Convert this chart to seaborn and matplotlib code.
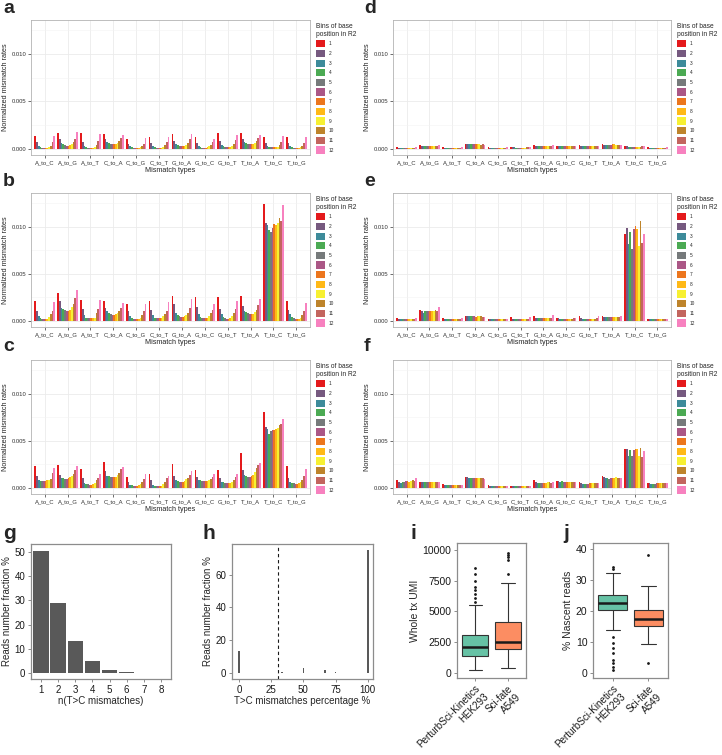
import numpy as np
import pandas as pd
import seaborn as sns
import matplotlib.pyplot as plt
from matplotlib.ticker import FixedLocator, FormatStrFormatter

# mismatch types and position bins
types = ["A_to_C", "A_to_G", "A_to_T", "C_to_A", "C_to_G", "C_to_T",
         "G_to_A", "G_to_C", "G_to_T", "T_to_A", "T_to_C", "T_to_G"]
bins = [str(i) for i in range(1, 13)]
bin_colors = ["#E41A1C", "#76597F", "#3D8B9A", "#4BAA53", "#767A7B", "#AB5786",
              "#EC761D", "#FFB917", "#F7F032", "#BE842B", "#C3655E", "#F781BF"]

# normalized mismatch rates (x 1e-4), one row per mismatch type, bins 1..12
rates_a = [
    [13.6, 7, 3.5, 2, 1.2, 1, 1, 1.2, 2, 3.5, 7, 13.6],
    [17, 10, 6.5, 5, 4, 3.5, 3.5, 4, 5, 7, 10, 18],
    [16.5, 7, 3, 1.5, 1, 0.8, 0.8, 1, 2, 4, 8, 15.7],
    [15.7, 10, 7, 6, 5.5, 5.5, 5.5, 5.5, 6, 8, 11, 14.7],
    [10, 5, 2.5, 1.5, 1, 0.8, 0.8, 1, 1.5, 3, 5.5, 11],
    [12, 6, 3, 1.5, 1, 0.8, 0.8, 1, 2, 4, 7, 12],
    [16, 8, 5, 4, 3.5, 3, 3, 3.5, 4.5, 6, 10, 16],
    [12, 6, 3, 2, 1.2, 1, 1, 1.5, 2.5, 4, 7, 10.5],
    [16.5, 8, 4, 2.5, 2, 2, 2, 2, 3, 5, 9, 14.7],
    [16.5, 10, 7, 6, 5, 5, 5, 5, 6, 8, 11, 14.7],
    [12, 6, 3, 2, 1.5, 1.5, 1.5, 1.5, 2, 4, 7, 13.6],
    [12, 6, 3, 2, 1.2, 1, 1, 1, 1.5, 3, 6, 13],
]
rates_b = [
    [21.5, 10, 5, 3, 2, 2, 2, 2.5, 4, 7, 10, 20.5],
    [30, 21, 14, 13, 12, 11, 11, 12, 15, 18, 24, 33],
    [22, 13, 6, 3.5, 3, 3, 3, 3, 3.5, 8, 13, 22],
    [21, 13.5, 10, 8, 7, 6.5, 6.5, 7, 8, 10, 14, 19.5],
    [18, 11, 5, 3, 2.5, 2, 2, 2.5, 3.5, 6, 10, 17.5],
    [21, 12, 6, 3.5, 3, 3, 3, 3.5, 5, 7, 11, 20],
    [26.5, 18, 8, 6, 5, 4, 4, 5, 6, 8, 14, 23],
    [25, 15, 7, 4, 3, 3, 3, 3, 5, 8, 12, 17.5],
    [25.5, 13, 7, 4, 3, 2.5, 2.5, 3, 5, 8, 13, 21],
    [26, 16, 10, 9, 8, 7, 7, 7, 9, 12, 17, 23],
    [124.5, 104, 102, 97, 95, 99, 103.5, 102, 104, 109, 106, 123],
    [21, 12, 7, 4, 3, 2.5, 2.5, 2.5, 3, 6, 10, 18.5],
]
rates_c = [
    [23, 13, 8, 7.5, 7, 7, 7.5, 8, 8, 9.5, 15.5, 21],
    [24, 14, 10, 10, 9, 9, 10, 11.5, 13, 15, 19, 23],
    [20, 10, 5, 4, 4, 3.5, 3.5, 4, 5, 8, 10.5, 15],
    [27, 17.5, 13, 12.5, 12, 11.5, 11.5, 12, 14, 16, 20, 22],
    [12, 6.5, 3.5, 3, 2.5, 2.5, 2.5, 3, 4, 6, 9.5, 14.5],
    [14.5, 8, 3.5, 2.5, 2.5, 2, 2, 2.5, 4, 6, 10, 13],
    [25.5, 13, 8.5, 7, 6.5, 6, 6, 7.5, 9, 11, 14, 17.5],
    [19.5, 12, 8.5, 8, 7.5, 7, 7, 7.5, 8.5, 9.5, 12, 14.5],
    [19, 10, 6.5, 6, 5.5, 5, 5, 5.5, 6.5, 8.5, 12, 14.5],
    [37, 19, 14, 13, 12, 11.5, 12.5, 14, 16.5, 21, 24.5, 26.5],
    [81, 64.5, 63, 57.5, 60, 61.5, 61.5, 62.5, 64, 67, 68, 73.5],
    [23.5, 11, 6, 5, 5, 4.5, 4.5, 5, 6, 8, 13, 20],
]
rates_d = [
    [2, 1, 1, 1, 1, 1, 1, 1, 1, 1, 1.2, 1.5],
    [4, 3.5, 3, 3, 3, 3, 3, 3.5, 3.5, 3.5, 3.5, 4.5],
    [1.8, 1.2, 1, 1, 1, 1, 1, 1, 1, 1, 1.2, 1.5],
    [5, 5, 5, 5.5, 5, 5, 5, 5, 5, 4.5, 5, 4.5],
    [1.5, 1.2, 1, 1, 1, 1, 1, 1, 1, 1, 1.2, 1.5],
    [2, 1.5, 1.5, 1.2, 1.2, 1.2, 1.2, 1.2, 1.2, 1.5, 1.5, 1.8],
    [4, 3.5, 3, 3, 3, 3, 3, 3, 3, 3, 3.5, 4],
    [2.5, 2.5, 2.5, 2.5, 2.5, 2.5, 2.5, 2.5, 2.5, 2.5, 2.5, 2.5],
    [4, 3, 2.5, 2.5, 2.5, 2.5, 2.5, 2.5, 2.5, 3, 3, 3.5],
    [5, 4.5, 4.5, 4.5, 4.5, 4.5, 5, 5, 4.5, 4.5, 4.5, 4.5],
    [3, 2.5, 2, 2, 2, 2, 2, 2, 2, 2, 2.5, 2.5],
    [1.5, 1, 1, 1, 1, 1, 1, 1, 1, 1, 1, 1.5],
]
rates_e = [
    [3, 2, 1.5, 1.5, 1.5, 1.5, 1.5, 1.5, 1.5, 1.5, 2, 3],
    [11.5, 10.5, 8, 10, 10, 10, 10.5, 10.5, 11, 12, 10, 15],
    [3.5, 2, 1.5, 1.5, 1.5, 1.5, 1.5, 1.5, 1.5, 1.5, 2, 3.5],
    [5.5, 5.5, 5, 5, 5, 5, 4.5, 5, 5, 5, 4.5, 4.5],
    [2.5, 1.5, 1.5, 1.5, 1.5, 1.5, 1.5, 1.5, 1.5, 1.5, 1.5, 2.5],
    [4, 2.5, 2, 2, 2, 2, 2, 2, 2, 2, 2.5, 4.5],
    [5.5, 3.5, 3, 3, 3, 3, 3, 3, 3, 3, 3.5, 6],
    [3.5, 3, 2.5, 2.5, 2.5, 2.5, 2.5, 2.5, 2.5, 2.5, 3, 3.5],
    [5.5, 3, 2.5, 2.5, 2.5, 2.5, 2.5, 2.5, 2.5, 2.5, 3, 5.5],
    [5.5, 4.5, 4, 4.5, 4.5, 4.5, 4.5, 4.5, 4.5, 4.5, 4, 5.5],
    [92, 99, 82, 95, 76, 98, 101, 98, 80, 106, 83, 92],
    [2.5, 2, 1.5, 1.5, 1.5, 1.5, 1.5, 1.5, 1.5, 1.5, 1.5, 2.5],
]
rates_f = [
    [8.5, 6, 5, 6.5, 6, 7, 7.5, 6.5, 7, 8, 7.5, 11],
    [6, 6, 6.5, 6.5, 6, 6, 6.5, 6.5, 6, 6, 6, 6],
    [4, 3.5, 3, 3, 3, 3, 3, 3, 3, 3, 3, 3.5],
    [12, 11.5, 10.5, 11, 10, 10, 10.5, 10, 10.5, 11, 10, 9.5],
    [3, 2.5, 2.5, 2.5, 2, 2, 2, 2, 2, 2, 2, 2.5],
    [2.5, 2, 2, 1.5, 1.5, 1.5, 1.5, 1.5, 2, 2, 2, 2.5],
    [8, 6.5, 5.5, 5.5, 5.5, 5.5, 5.5, 5.5, 6, 6, 5.5, 6.5],
    [7.5, 7, 6.5, 7.5, 6.5, 6, 6, 6.5, 6, 6.5, 6.5, 6],
    [6, 5, 4.5, 4.5, 4.5, 4.5, 5, 5, 5, 5, 5, 5.5],
    [13, 12, 10, 11, 9.5, 10.5, 10.5, 11, 11.5, 11, 10.5, 10],
    [41, 41.5, 33.5, 40, 34, 40, 41, 41.5, 34, 42.5, 33, 39],
    [5.5, 5, 4.5, 4.5, 4.5, 5, 5, 5, 5, 5.5, 5, 5.5],
]

# g: reads fraction by number of T>C mismatches
n_tc = [1, 2, 3, 4, 5, 6, 7, 8]
n_tc_frac = [50.5, 29.0, 13.3, 5.1, 1.3, 0.35, 0.1, 0.03]

# h: reads fraction by T>C mismatch percentage
tc_pct = [0, 12.5, 16.7, 20, 25, 33.3, 40, 50, 60, 66.7, 75, 80, 100]
tc_pct_frac = [13.5, 0.1, 0.15, 0.1, 0.2, 0.8, 0.15, 3.2, 0.2, 1.5, 0.4, 0.15, 75.0]

# i / j: per-cell values (samples shaped to the boxplot summaries)
samples = ["PerturbSci-Kinetics\nHEK293", "Sci-fate\nA549"]
umi_pk = [244, 450, 600, 750, 850, 950, 1030, 1100, 1170, 1230, 1290, 1340,
          1384, 1450, 1520, 1590, 1660, 1730, 1800, 1860, 1920, 1980, 2030, 2080,
          2117, 2200, 2290, 2380, 2470, 2560, 2650, 2740, 2830, 2920, 3000, 3050,
          3094, 3300, 3700, 4300, 5540, 5800, 6050, 6400, 6700, 7000, 7450, 8050, 8500]
umi_sf = [400, 700, 950, 1200, 1400, 1600, 1750, 1870,
          1954, 2030, 2100, 2180, 2260, 2340, 2410, 2470,
          2524, 2700, 2900, 3100, 3350, 3600, 3850, 4050,
          4150, 4800, 6000, 7330, 8060, 9200, 9450, 9600, 9770]
nascent_pk = [1.0, 1.9, 3.2, 4.2, 6.5, 8.1, 9.7, 11.6, 13.9, 16.0, 18.0, 19.5,
              20.3, 20.5, 20.7, 20.9, 21.1, 21.3, 21.5, 21.7, 21.9, 22.1, 22.2, 22.35,
              22.5, 22.7, 22.9, 23.1, 23.3, 23.5, 23.7, 23.9, 24.2, 24.5, 24.8, 25.0,
              25.2, 25.5, 25.8, 26.2, 26.6, 27.0, 27.5, 28.0, 29.0, 30.5, 32.3, 33.5, 34.2]
nascent_sf = [3.2, 9.4, 12.5, 14.3,
              15.2, 16.0, 16.6, 17.0,
              17.5, 18.0, 18.8, 19.6,
              20.4, 22.5, 26.8, 28.1, 38.1]

sns.set_theme(style="white")
plt.rcParams["font.family"] = ["Liberation Sans", "DejaVu Sans"]

W, H = 722, 755
fig = plt.figure(figsize=(W / 100, H / 100), dpi=100)


def add_ax(x0, y0, x1, y1):
    return fig.add_axes([x0 / W, 1 - y1 / H, (x1 - x0) / W, (y1 - y0) / H])


def mismatch_panel(rates, box, letter, lpos):
    rows = []
    for t, vals in zip(types, rates):
        for b, v in zip(bins, vals):
            rows.append((t, b, v / 1e4))
    df = pd.DataFrame(rows, columns=["type", "bin", "rate"])
    ax = add_ax(*box)
    sns.barplot(data=df, x="type", y="rate", hue="bin", order=types, hue_order=bins,
                palette=bin_colors, width=0.9, gap=0, saturation=1, errorbar=None,
                linewidth=0, ax=ax)
    ax.set_xlim(-0.6, 11.6)
    ax.set_ylim(-0.00065, 0.0136)
    ax.yaxis.set_major_locator(FixedLocator([0, 0.005, 0.010]))
    ax.yaxis.set_minor_locator(FixedLocator([0.0025, 0.0075, 0.0125]))
    ax.yaxis.set_major_formatter(FormatStrFormatter("%.3f"))
    ax.set_axisbelow(True)
    ax.grid(which="major", color="#EBEBEB", lw=0.6)
    ax.grid(which="minor", axis="y", color="#F3F3F3", lw=0.4)
    for s in ax.spines.values():
        s.set_color("#B3B3B3")
        s.set_linewidth(0.6)
    ax.tick_params(axis="both", which="major", labelsize=4.2, length=2, width=0.5,
                   color="#333333", pad=1.5, labelcolor="#333333", bottom=True, left=True)
    ax.tick_params(which="minor", length=0)
    ax.set_xlabel("Mismatch types", fontsize=5.2, labelpad=1.5)
    ax.set_ylabel("Normalized mismatch rates", fontsize=5.2, labelpad=2)
    sns.move_legend(ax, "upper left", bbox_to_anchor=(1.01, 1.0),
                    title="Bins of base\nposition in R2", frameon=False,
                    fontsize=3.4, title_fontsize=4.8, handlelength=2.0,
                    handleheight=2.0, labelspacing=0.5, borderaxespad=0.2,
                    handletextpad=0.8)
    ax.get_legend()._legend_box.align = "left"
    fig.text(lpos[0] / W, 1 - lpos[1] / H, letter, fontsize=14, fontweight="bold",
             va="top", ha="left")
    return ax


mismatch_panel(rates_a, (31, 20, 310, 155), "a", (3, 0))
mismatch_panel(rates_b, (31, 193, 310, 327), "b", (3, 173))
mismatch_panel(rates_c, (31, 360, 310, 494), "c", (3, 338))
mismatch_panel(rates_d, (393, 20, 671, 155), "d", (364, 0))
mismatch_panel(rates_e, (393, 193, 671, 327), "e", (364, 173))
mismatch_panel(rates_f, (393, 360, 671, 494), "f", (364, 338))


def style_small(ax):
    for s in ax.spines.values():
        s.set_color("#8C8C8C")
        s.set_linewidth(0.9)
    ax.tick_params(axis="both", labelsize=7, length=2.5, width=0.7, color="#8C8C8C",
                   pad=1.5, labelcolor="#1A1A1A", bottom=True, left=True)


# g
ax = add_ax(31, 544, 171, 679)
g_df = pd.DataFrame({"n": n_tc, "frac": n_tc_frac})
sns.barplot(data=g_df, x="n", y="frac", color="#595959", saturation=1, width=0.9,
            errorbar=None, linewidth=0, ax=ax)
ax.set_xlim(-0.58, 7.58)
ax.set_ylim(-2.54, 53.3)
ax.set_yticks([0, 10, 20, 30, 40, 50])
style_small(ax)
ax.set_xlabel("n(T>C mismatches)", fontsize=7, labelpad=1)
ax.set_ylabel("Reads number fraction %", fontsize=7, labelpad=2)
fig.text(3 / W, 1 - 524 / H, "g", fontsize=15, fontweight="bold", va="top")

# h
ax = add_ax(232, 544, 373, 679)
h_df = pd.DataFrame({"pct": tc_pct, "frac": tc_pct_frac})
sns.barplot(data=h_df, x="pct", y="frac", color="#595959", saturation=1, width=0.35,
            errorbar=None, linewidth=0, native_scale=True, ax=ax)
ax.axvline(30, color="#1A1A1A", ls=(0, (3, 2.5)), lw=0.8)
ax.set_xlim(-5.4, 104)
ax.set_ylim(-3.75, 78.75)
ax.set_xticks([0, 25, 50, 75, 100])
ax.set_yticks([0, 20, 40, 60])
style_small(ax)
ax.set_xlabel("T>C mismatches percentage %", fontsize=7, labelpad=1)
ax.set_ylabel("Reads number fraction %", fontsize=7, labelpad=2)
fig.text(202 / W, 1 - 524 / H, "h", fontsize=15, fontweight="bold", va="top")


def box_panel(box, vals_a, vals_b, ylim, yticks, ylabel, letter, lx):
    ax = add_ax(*box)
    df = pd.DataFrame({"sample": [samples[0]] * len(vals_a) + [samples[1]] * len(vals_b),
                       "value": vals_a + vals_b})
    sns.boxplot(data=df, x="sample", y="value", hue="sample", order=samples,
                palette=["#66C2A5", "#FC8D62"], saturation=1, width=0.8,
                linecolor="#333333", linewidth=0.8, fliersize=1, legend=False,
                medianprops=dict(color="#1A1A1A", linewidth=1.8),
                flierprops=dict(marker="o", markerfacecolor="#1A1A1A",
                                markeredgecolor="#1A1A1A", markersize=1),
                ax=ax)
    ax.set_xlim(-0.55, 1.55)
    ax.set_ylim(*ylim)
    ax.set_yticks(yticks)
    style_small(ax)
    ax.tick_params(axis="y", labelsize=7.5)
    ax.set_xticks([0, 1])
    ax.set_xticklabels(samples, rotation=45, ha="right", rotation_mode="anchor",
                       fontsize=7.1)
    ax.set_xlabel("")
    ax.set_ylabel(ylabel, fontsize=7.5, labelpad=2)
    fig.text(lx / W, 1 - 524 / H, letter, fontsize=15, fontweight="bold", va="top")


box_panel((457, 543, 526, 678), umi_pk, umi_sf, (-400, 10550),
          [0, 2500, 5000, 7500, 10000], "Whole tx UMI", "i", 410)
box_panel((593, 543, 668, 678), nascent_pk, nascent_sf, (-1.6, 41.9),
          [0, 10, 20, 30, 40], "% Nascent reads", "j", 563)

fig.savefig("out.png", dpi=100)
